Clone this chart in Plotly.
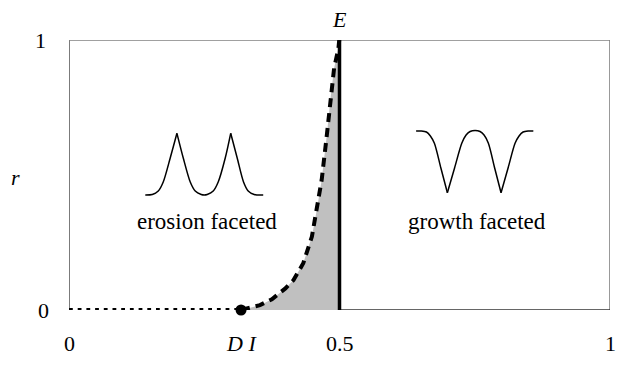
import plotly.graph_objects as go

# ---- data ----
DI = 0.318           # position of point D I on the x axis
E_X = 0.5            # position of E (vertical boundary)

# dashed boundary curve from D I up to E
curve_x = [0.318, 0.335, 0.353, 0.375, 0.400, 0.415, 0.433, 0.449, 0.458, 0.467,
           0.4766, 0.4827, 0.490, 0.498, 0.4995]
curve_r = [0.0, 0.008, 0.018, 0.040, 0.080, 0.111, 0.173, 0.272, 0.370, 0.481,
           0.648, 0.771, 0.895, 0.969, 1.0]

# dotted line along r = 0 from 0 to D I
dot_x = [0.0, DI]
dot_r = [0.0, 0.0]

# vertical solid line at E
vline_x = [E_X, E_X]
vline_r = [0.0, 1.0]

# erosion-faceted glyph (two peaks), segments split at the sharp peaks
ero_x = [0.1410, 0.1539, 0.1650, 0.1742, 0.1871, 0.1995, None,
         0.1995, 0.2112, 0.2241, 0.2333, 0.2444, 0.2500, 0.2555, 0.2666, 0.2758, 0.2888, 0.2989, None,
         0.2989, 0.3109, 0.3226, 0.3312, 0.3423, 0.3590]
ero_r = [0.4259, 0.4278, 0.4407, 0.4741, 0.5630, 0.6544, None,
         0.6544, 0.5630, 0.4741, 0.4407, 0.4278, 0.4259, 0.4278, 0.4407, 0.4741, 0.5630, 0.6544, None,
         0.6544, 0.5630, 0.4741, 0.4407, 0.4278, 0.4259]

# growth-faceted glyph (two troughs), segments split at the sharp troughs
gro_x = [0.6416, 0.6514, 0.6607, 0.6680, 0.6754, 0.6874, 0.6994, None,
         0.6994, 0.7127, 0.7260, 0.7340, 0.7414, 0.7506, 0.7598, 0.7672, 0.7752, 0.7868, 0.7986, None,
         0.7986, 0.8116, 0.8245, 0.8319, 0.8393, 0.8485, 0.8583]
gro_r = [0.6630, 0.6630, 0.6593, 0.6444, 0.6174, 0.5259, 0.4344, None,
         0.4344, 0.5259, 0.6174, 0.6481, 0.6611, 0.6648, 0.6611, 0.6481, 0.6174, 0.5259, 0.4344, None,
         0.4344, 0.5259, 0.6174, 0.6444, 0.6593, 0.6630, 0.6630]

x_tick_vals = [0.0, DI, 0.5, 1.0]
x_tick_text = ["0", "<i>D I</i>", "0.5", "1"]
y_tick_vals = [0.0, 1.0]
y_tick_text = ["0", "1"]

region_labels = ["erosion faceted", "growth faceted"]
region_x = [0.2555, 0.7543]
region_r = [0.327, 0.327]

FONT = "'Liberation Serif', 'Times New Roman', Tinos, 'DejaVu Serif', serif"

fig = go.Figure()

# gray shaded region between curve and E line
fig.add_trace(go.Scatter(
    x=curve_x + [E_X, E_X], y=curve_r + [1.0, 0.0],
    fill="toself", fillcolor="#c0c0c0", mode="none", hoverinfo="skip"))

fig.add_trace(go.Scatter(
    x=dot_x, y=dot_r, mode="lines",
    line=dict(color="black", width=4, dash="3.8px,4.9px"), cliponaxis=False))

fig.add_trace(go.Scatter(
    x=curve_x, y=curve_r, mode="lines",
    line=dict(color="black", width=4, dash="9px,6px"), cliponaxis=False))

fig.add_trace(go.Scatter(
    x=vline_x, y=vline_r, mode="lines",
    line=dict(color="black", width=3.5), cliponaxis=False))

fig.add_trace(go.Scatter(
    x=[DI], y=[0.0], mode="markers",
    marker=dict(color="black", size=11), cliponaxis=False))

fig.add_trace(go.Scatter(
    x=ero_x, y=ero_r, mode="lines", connectgaps=False,
    line=dict(color="black", width=1.5, shape="spline", smoothing=0.8)))

fig.add_trace(go.Scatter(
    x=gro_x, y=gro_r, mode="lines", connectgaps=False,
    line=dict(color="black", width=1.5, shape="spline", smoothing=0.8)))

# frame (bottom only from D I to 1)
shapes = [
    dict(type="line", xref="x", yref="y", x0=0, x1=0, y0=0, y1=1,
         line=dict(color="#333333", width=1.3), layer="below"),
    dict(type="line", xref="x", yref="y", x0=0, x1=1, y0=1, y1=1,
         line=dict(color="#808080", width=1.6), layer="below"),
    dict(type="line", xref="x", yref="y", x0=1, x1=1, y0=0, y1=1,
         line=dict(color="#808080", width=1.6), layer="below"),
    dict(type="line", xref="x", yref="y", x0=DI, x1=1, y0=0, y1=0,
         line=dict(color="#333333", width=1.3), layer="below"),
]

annotations = []
for v, t in zip(x_tick_vals, x_tick_text):
    annotations.append(dict(x=v, y=0, xref="x", yref="paper", text=t, showarrow=False,
                            yshift=-33, xanchor="center", yanchor="middle",
                            font=dict(family=FONT, size=22, color="black")))
for v, t, xs in zip(y_tick_vals, y_tick_text, [-26, -29]):
    annotations.append(dict(x=0, y=v, xref="paper", yref="y", text=t, showarrow=False,
                            xshift=xs, xanchor="center", yanchor="middle",
                            font=dict(family=FONT, size=22, color="black")))
annotations.append(dict(x=0, y=0.4926, xref="paper", yref="y", text="<i>r</i>", showarrow=False,
                        xshift=-54, xanchor="center", yanchor="middle",
                        font=dict(family=FONT, size=22, color="black")))
annotations.append(dict(x=E_X, y=1, xref="x", yref="paper", text="<i>E</i>", showarrow=False,
                        yshift=21, xanchor="center", yanchor="middle",
                        font=dict(family=FONT, size=22, color="black")))
for t, xx, rr in zip(region_labels, region_x, region_r):
    annotations.append(dict(x=xx, y=rr, xref="x", yref="y", text=t, showarrow=False,
                            xanchor="center", yanchor="middle",
                            font=dict(family=FONT, size=23, color="black")))

fig.update_layout(
    width=625, height=369,
    margin=dict(l=69, r=15, t=40, b=59),
    paper_bgcolor="white", plot_bgcolor="white",
    showlegend=False,
    font=dict(family=FONT),
    xaxis=dict(range=[0, 1], showgrid=False, zeroline=False, showticklabels=False,
               showline=False, ticks=""),
    yaxis=dict(range=[0, 1], showgrid=False, zeroline=False, showticklabels=False,
               showline=False, ticks=""),
    shapes=shapes,
    annotations=annotations,
)

fig.write_html("out.html")
